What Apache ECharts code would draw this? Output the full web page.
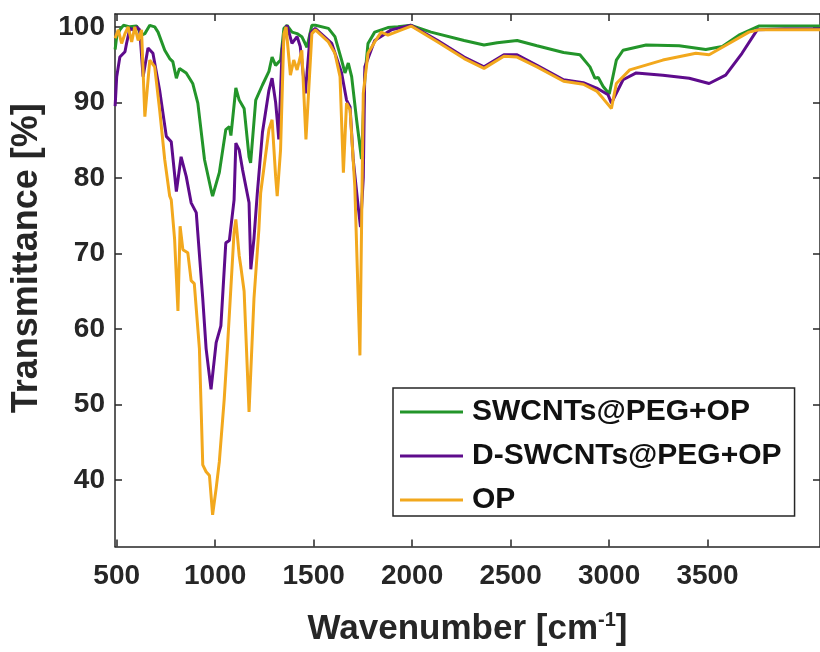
<!DOCTYPE html>
<html>
<head>
<meta charset="utf-8">
<script src="https://cdn.jsdelivr.net/npm/echarts@6/dist/echarts.min.js"></script>
<style>
html,body{margin:0;padding:0;background:#fff;}
#chart{width:820px;height:652px;}
</style>
</head>
<body>
<div id="chart"></div>
<script>
// ---- data ----
const seriesNames = ['SWCNTs@PEG+OP', 'D-SWCNTs@PEG+OP', 'OP'];
const xTickLabels = [500, 1000, 1500, 2000, 2500, 3000, 3500];
const yTickLabels = [40, 50, 60, 70, 80, 90, 100];

const greenWave = [492,500,516,534,567,601,626,643,668,693,710,744,769,785,803,819,853,886,912,946,981,987,1021,1054,1072,1080,1105,1122,1147,1172,1180,1206,1240,1273,1289,1307,1332,1349,1365,1390,1416,1440,1466,1491,1509,1575,1608,1642,1659,1676,1693,1718,1743,1760,1776,1810,1877,1928,1995,2096,2264,2365,2432,2533,2634,2769,2852,2903,2928,2945,2970,3001,3037,3071,3188,3356,3491,3575,3659,3760,3892,4071];
const greenT    = [97.0,98.7,99.6,100.2,100.0,100.1,98.9,99.1,100.2,100.0,99.3,96.9,95.8,95.4,93.2,94.5,93.9,92.5,89.9,82.4,78.2,77.6,80.7,86.4,86.8,85.6,91.9,90.3,89.2,82.8,82.0,90.3,92.3,94.1,96.0,94.9,95.6,99.8,100.2,99.3,99.1,98.7,97.3,100.2,100.2,99.8,98.7,95.6,93.9,95.2,93.4,87.7,82.5,93.4,97.8,99.3,99.9,100.0,100.2,99.3,98.2,97.6,97.9,98.2,97.5,96.6,96.3,94.7,93.2,93.3,92.1,91.1,95.6,96.9,97.6,97.5,97.0,97.4,98.9,100.1,100.1,100.1];

const purpleWave = [492,500,516,542,550,567,584,601,617,634,659,684,718,752,777,803,827,853,878,904,937,954,979,1005,1029,1054,1072,1096,1105,1122,1139,1172,1181,1197,1214,1240,1273,1289,1307,1315,1323,1340,1357,1365,1390,1416,1432,1458,1483,1508,1592,1642,1667,1685,1701,1727,1738,1752,1760,1810,1894,1995,2130,2264,2365,2466,2533,2634,2769,2869,2937,2995,3012,3071,3138,3273,3407,3508,3592,3675,3752,3892,4071];
const purpleT    = [89.5,93.4,96.0,96.7,97.8,99.8,99.6,100.0,99.6,93.4,97.2,96.5,91.6,85.5,84.8,78.2,82.8,80.2,76.7,75.4,64.0,57.4,52.0,58.2,60.4,71.4,71.7,77.1,84.6,83.7,81.1,76.7,67.9,72.0,78.0,86.0,91.6,93.2,90.0,87.7,85.1,97.0,99.8,100.2,97.8,98.7,97.4,91.2,99.1,99.8,97.8,93.9,90.3,89.4,82.4,76.0,73.5,80.0,94.7,98.2,99.6,100.2,98.2,96.0,94.7,96.3,96.3,94.9,93.0,92.6,91.9,91.0,89.9,93.0,93.9,93.6,93.2,92.5,93.6,96.5,99.6,99.7,99.7];

const orangeWave = [492,508,525,542,558,576,592,609,626,643,668,693,718,744,769,777,794,811,822,836,861,878,894,920,937,954,971,987,1005,1021,1046,1062,1096,1105,1122,1130,1147,1172,1197,1222,1231,1273,1289,1307,1315,1332,1349,1360,1382,1399,1416,1440,1461,1491,1509,1575,1608,1634,1651,1667,1685,1709,1735,1752,1776,1810,1843,1877,1995,2130,2264,2365,2466,2533,2634,2769,2869,2937,2970,3012,3037,3105,3273,3441,3508,3609,3710,3760,3892,4071];
const orangeT    = [98.5,99.6,97.8,99.1,100.0,98.0,100.0,98.2,99.6,88.1,95.6,94.7,89.0,82.4,77.6,77.1,71.9,62.4,73.6,70.5,70.1,66.4,66.0,57.4,42.0,41.1,40.6,35.4,38.9,42.4,50.7,57.4,72.8,74.5,69.7,68.3,65.0,49.0,64.0,73.2,78.0,86.4,87.7,80.2,77.6,83.7,99.1,100.0,93.6,95.6,94.3,96.9,85.1,99.1,99.6,98.0,96.5,93.4,80.7,89.9,89.0,78.9,56.5,91.2,96.5,98.0,99.3,98.9,100.1,98.0,95.8,94.5,96.1,96.0,94.7,92.8,92.4,91.5,90.5,89.2,92.5,94.3,95.6,96.5,96.3,97.8,99.3,99.6,99.6,99.6];

const colors = ['#23952a', '#5e0b8c', '#f2a81d'];

function pairs(xs, ys) { return xs.map((x, i) => [x, ys[i]]); }

const chart = echarts.init(document.getElementById('chart'), null, {renderer: 'canvas'});
const axisColor = '#262626';
const FONT = 'Liberation Sans, Arial, sans-serif';
const labelFont = {fontFamily: FONT, fontWeight: 'bold', fontSize: 28, color: axisColor, formatter: v => String(v)};
const X_MIN = 491.4, X_MAX = 4071, Y_MIN = 31.2, Y_MAX = 101.7;

const option = {
  animation: false,
  backgroundColor: '#ffffff',
  grid: {left: 115, top: 14, width: 710, height: 534, containLabel: false},
  xAxis: [{
    type: 'value', min: X_MIN, max: X_MAX, position: 'bottom',
    axisLine: {show: true, onZero: false, lineStyle: {color: axisColor, width: 1.5}},
    axisTick: {show: true, inside: true, length: 7, customValues: xTickLabels, lineStyle: {color: axisColor, width: 1.5}},
    axisLabel: Object.assign({margin: 16, customValues: xTickLabels}, labelFont),
    splitLine: {show: false},
    name: '{a|Wavenumber [cm}{s|-1}{a|]}',
    nameLocation: 'middle', nameGap: 64,
    nameTextStyle: {
      rich: {
        a: {fontFamily: FONT, fontWeight: 'bold', fontSize: 35, color: axisColor},
        s: {fontFamily: FONT, fontWeight: 'bold', fontSize: 20, color: axisColor, padding: [0, 0, 18, 0]}
      }
    }
  }, {
    type: 'value', min: X_MIN, max: X_MAX, position: 'top',
    axisLine: {show: true, onZero: false, lineStyle: {color: axisColor, width: 1.5}},
    axisTick: {show: true, inside: true, length: 7, customValues: xTickLabels, lineStyle: {color: axisColor, width: 1.5}},
    axisLabel: {show: false},
    splitLine: {show: false}
  }],
  yAxis: [{
    type: 'value', min: Y_MIN, max: Y_MAX, position: 'left',
    axisLine: {show: true, onZero: false, lineStyle: {color: axisColor, width: 1.5}},
    axisTick: {show: true, inside: true, length: 7, customValues: yTickLabels, lineStyle: {color: axisColor, width: 1.5}},
    axisLabel: Object.assign({margin: 10, customValues: yTickLabels}, labelFont),
    splitLine: {show: false},
    name: 'Transmittance [%]',
    nameLocation: 'middle', nameGap: 70,
    nameTextStyle: {fontFamily: FONT, fontWeight: 'bold', fontSize: 36, color: axisColor, padding: [0, 0, 0, 44]}
  }, {
    type: 'value', min: Y_MIN, max: Y_MAX, position: 'right',
    axisLine: {show: true, onZero: false, lineStyle: {color: axisColor, width: 1.5}},
    axisTick: {show: true, inside: true, length: 7, customValues: yTickLabels, lineStyle: {color: axisColor, width: 1.5}},
    axisLabel: {show: false},
    splitLine: {show: false}
  }],
  legend: {
    orient: 'vertical', left: 393, top: 388,
    backgroundColor: '#ffffff',
    borderColor: axisColor, borderWidth: 1.5, borderRadius: 0,
    padding: [8, 13, 0, 7],
    itemWidth: 63, itemHeight: 3, itemGap: 12,
    textStyle: {fontFamily: FONT, fontWeight: 'bold', fontSize: 30, color: '#111111', lineHeight: 32, padding: [0, 0, 0, 4]},
    data: seriesNames.map(n => ({name: n, icon: 'rect'}))
  },
  series: [
    {name: seriesNames[0], type: 'line', data: pairs(greenWave, greenT), showSymbol: false, symbol: 'none', lineStyle: {width: 3, color: colors[0]}, itemStyle: {color: colors[0]}},
    {name: seriesNames[1], type: 'line', data: pairs(purpleWave, purpleT), showSymbol: false, symbol: 'none', lineStyle: {width: 3, color: colors[1]}, itemStyle: {color: colors[1]}},
    {name: seriesNames[2], type: 'line', data: pairs(orangeWave, orangeT), showSymbol: false, symbol: 'none', lineStyle: {width: 3, color: colors[2]}, itemStyle: {color: colors[2]}}
  ]
};
chart.setOption(option);
</script>
</body>
</html>
